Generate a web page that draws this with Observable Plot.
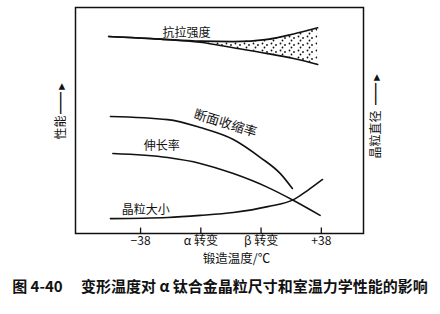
<!DOCTYPE html>
<html><head><meta charset="utf-8">
<script src="https://cdn.jsdelivr.net/npm/d3@7"></script>
<script src="https://cdn.jsdelivr.net/npm/@observablehq/plot@0.6"></script>
<style>
body{margin:0;background:#fff;width:440px;height:314px;overflow:hidden;font-family:"Noto Sans CJK SC",sans-serif;color:#111}
#cap{font-size:15px;font-weight:bold;text-align:center;line-height:20px;margin-top:8px;white-space:pre;color:#111}
</style></head><body><div id="chart"></div><div id="cap"></div>
<script>
// tick positions and labels
const tickPos = [1, 2, 3, 4];
const tickLabels = ["−38", "α 转变", "β 转变", "+38"];
const xTitle = "锻造温度/℃";
const yLeftTitle = "性能";
const yRightTitle = "晶粒直径";
const arrowGlyph = "━━►";
const captionNo = "图 4-40";
const captionText = "变形温度对 α 钛合金晶粒尺寸和室温力学性能的影响";

// 抗拉强度 (tensile strength band)
const tensileX = [0.47, 1.33, 1.99, 2.54, 3.11, 3.54, 3.94];
const tensileLow = [87.2, 86.0, 84.6, 82.2, 79.6, 77.4, 74.8];
const tensileHigh = [87.2, 86.0, 85.1, 84.9, 85.9, 88.3, 91.0];

// 断面收缩率 (reduction of area)
const raX = [0.50, 1.45, 1.99, 2.54, 2.99, 3.32, 3.52];
const raY = [51.8, 50.4, 46.9, 41.6, 33.6, 26.5, 19.9];

// 伸长率 (elongation)
const elX = [0.54, 1.45, 1.99, 2.54, 3.11, 3.54, 3.98];
const elY = [35.4, 33.6, 31.0, 26.5, 20.4, 14.6, 8.0];

// 晶粒大小 (grain size)
const gsX = [0.50, 1.45, 1.99, 2.54, 3.11, 3.54, 3.77, 4.02];
const gsY = [6.6, 7.1, 8.0, 9.3, 11.9, 15.0, 19.0, 23.9];

const toRows = (xs, ys) => xs.map((x, i) => ({x, y: ys[i]}));
const tensile = tensileX.map((x, i) => ({x, lo: tensileLow[i], hi: tensileHigh[i]}));
const ra = toRows(raX, raY), el = toRows(elX, elY), gs = toRows(gsX, gsY);

const ink = "#111";
const curve = "monotone-x";
const chart = Plot.plot({
  width: 440, height: 268,
  marginLeft: 75, marginRight: 77, marginTop: 7, marginBottom: 35,
  style: {fontFamily: "'Noto Sans CJK SC', sans-serif", color: ink, background: "transparent"},
  x: {domain: [-0.08, 4.70], axis: null},
  y: {domain: [0, 100], axis: null},
  marks: [
    Plot.areaY(tensile, {x: "x", y1: "lo", y2: "hi", fill: "url(#dots)", curve}),
    Plot.line(tensile, {x: "x", y: "lo", stroke: ink, strokeWidth: 1.6, curve}),
    Plot.line(tensile, {x: "x", y: "hi", stroke: ink, strokeWidth: 1.6, curve}),
    Plot.line(ra, {x: "x", y: "y", stroke: ink, strokeWidth: 1.6, curve}),
    Plot.line(el, {x: "x", y: "y", stroke: ink, strokeWidth: 1.6, curve}),
    Plot.line(gs, {x: "x", y: "y", stroke: ink, strokeWidth: 1.6, curve}),
    Plot.frame({stroke: ink, strokeWidth: 1.5}),
    Plot.ruleX(tickPos, {y1: 0, y2: 2.4, stroke: ink, strokeWidth: 1.3}),
    Plot.axisX(tickPos, {tickSize: 0, tickPadding: 3, fontSize: 12, label: null,
      tickFormat: d => tickLabels[tickPos.indexOf(d)]}),
    Plot.text([xTitle], {frameAnchor: "bottom", lineAnchor: "middle", dx: 17, dy: 25, fontSize: 12.5}),
    Plot.text([yLeftTitle], {frameAnchor: "left", dx: -14, dy: 7, rotate: -90, textAnchor: "middle", fontSize: 12}),
    Plot.text([arrowGlyph], {frameAnchor: "left", dx: -14, dy: -23, rotate: -90, textAnchor: "middle", fontSize: 11}),
    Plot.text([yRightTitle], {frameAnchor: "right", dx: 13, dy: 14, rotate: -90, textAnchor: "middle", fontSize: 12}),
    Plot.text([arrowGlyph], {frameAnchor: "right", dx: 13, dy: -32, rotate: -90, textAnchor: "middle", fontSize: 11}),
    Plot.text([tensile[1]], {x: "x", y: "hi", text: () => "抗拉强度", dx: 26, dy: -6, fontSize: 12}),
    Plot.text([ra[2]], {x: "x", y: "y", text: () => "断面收缩率", dx: 25, dy: -4, rotate: 17, fontSize: 13}),
    Plot.text([el[1]], {x: "x", y: "y", text: () => "伸长率", dx: -6, dy: -11, fontSize: 12}),
    Plot.text([gs[1]], {x: "x", y: "y", text: () => "晶粒大小", dx: -22, dy: -7, fontSize: 12})
  ]
});
const ns = "http://www.w3.org/2000/svg";
const defs = document.createElementNS(ns, "defs");
defs.innerHTML = `<pattern id="dots" width="9" height="7" patternUnits="userSpaceOnUse">
<circle cx="1.5" cy="1.5" r="0.9" fill="${ink}"/><circle cx="6" cy="3" r="0.9" fill="${ink}"/><circle cx="3.5" cy="5.5" r="0.9" fill="${ink}"/></pattern>`;
chart.prepend(defs);
document.getElementById("chart").appendChild(chart);
const cap = document.getElementById("cap");
cap.textContent = captionNo + "\u2003 " + captionText;
</script></body></html>
